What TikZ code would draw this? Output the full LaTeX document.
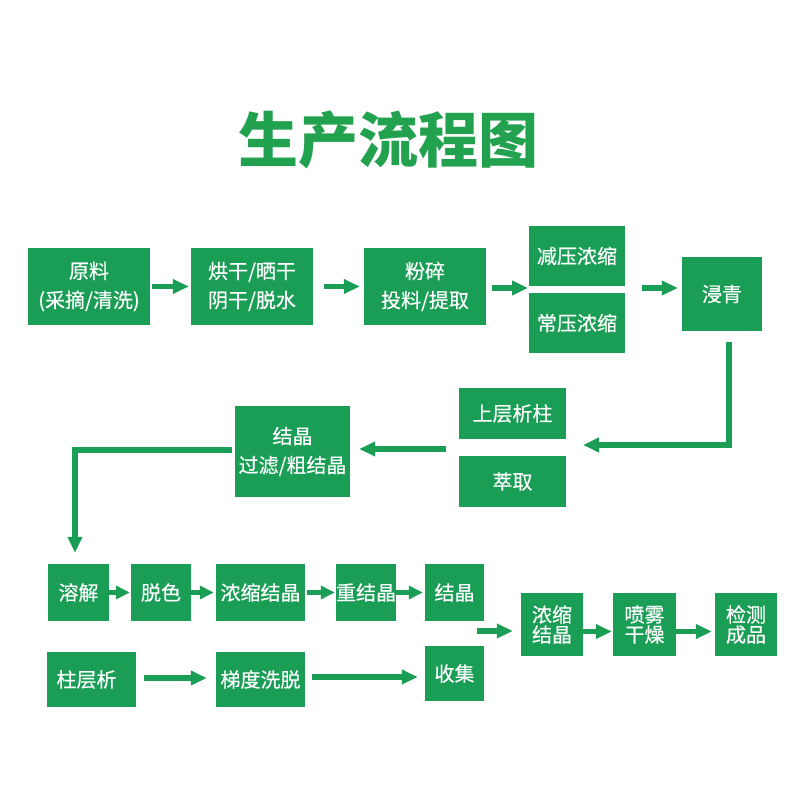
\documentclass[tikz,border=0pt]{standalone}
\usepackage{fontspec}
\setmainfont{Noto Sans CJK SC}
\newfontfamily\cjk{Noto Sans CJK SC}
\newfontfamily\cjkm[FakeBold=0.35]{Noto Sans CJK SC}
\usetikzlibrary{arrows.meta}
\definecolor{boxgreen}{RGB}{26,158,86}
\definecolor{titlegreen}{RGB}{34,161,78}
\tikzset{
  box/.style={fill=boxgreen, draw=none, inner sep=0pt, text=white,
    font=\cjkm\fontsize{20}{29}\selectfont, align=center},
  tightbox/.style={box, font=\cjkm\fontsize{20}{20}\selectfont},
  arr/.style={draw=boxgreen, line width=5.5pt,
    -{Triangle[length=16pt,width=14pt]}},
  smallarr/.style={draw=boxgreen, line width=5pt,
    -{Triangle[length=14pt,width=13pt]}}
}
\begin{document}
\begin{tikzpicture}[x=1pt,y=-1pt]
\fill[white] (0,0) rectangle (800,800);
\useasboundingbox (0,0) rectangle (800,800);

\node[text=titlegreen, font=\cjk\bfseries\fontsize{60}{60}\selectfont] (title) at (388.5,140) {生产流程图};

% row 1
\node[box, minimum width=122pt, minimum height=77pt] (b1) at (89,286.5) {原料\\(采摘/清洗)};
\node[box, minimum width=122pt, minimum height=77pt] (b2) at (252,286.5) {烘干/晒干\\阴干/脱水};
\node[box, minimum width=122pt, minimum height=77pt] (b3) at (425,286.5) {粉碎\\投料/提取};
\node[box, minimum width=96pt, minimum height=60pt] (b4a) at (577,256) {减压浓缩};
\node[box, minimum width=96pt, minimum height=60pt] (b4b) at (577,323) {常压浓缩};
\node[box, minimum width=80pt, minimum height=74pt] (b5) at (722,294) {浸青};
\coordinate (b4l) at (529,288);
\coordinate (b4r) at (625,288);

% row 2
\node[box, minimum width=107pt, minimum height=51pt] (b6a) at (512.5,413.5) {上层析柱};
\node[box, minimum width=107pt, minimum height=51pt] (b6b) at (512.5,481.5) {萃取};
\node[box, minimum width=115pt, minimum height=91pt] (b7) at (292.5,451.5) {结晶\\过滤/粗结晶};
\coordinate (b6r) at (566,445);
\coordinate (b6l) at (459,449);

% row 3
\node[box, minimum width=61pt, minimum height=57pt] (c1) at (78.5,592.5) {溶解};
\node[box, minimum width=60pt, minimum height=57pt] (c2) at (161,592.5) {脱色};
\node[box, minimum width=89pt, minimum height=57pt] (c3) at (260.5,592.5) {浓缩结晶};
\node[box, minimum width=60pt, minimum height=57pt] (c4) at (366,592.5) {重结晶};
\node[box, minimum width=59pt, minimum height=57pt] (c5) at (454.5,592.5) {结晶};

% row 4
\node[box, minimum width=89pt, minimum height=55pt] (d1) at (91.5,679.5) {\hspace*{-10pt}柱层析};
\node[box, minimum width=89pt, minimum height=55pt] (d2) at (260.5,679.5) {梯度洗脱};
\node[box, minimum width=59pt, minimum height=55pt] (d3) at (454.5,673.5) {收集};

% right group
\node[tightbox, minimum width=62pt, minimum height=63pt] (e1) at (552,624.5) {浓缩\\结晶};
\node[tightbox, minimum width=63pt, minimum height=63pt] (e2) at (644.5,624.5) {喷雾\\干燥};
\node[tightbox, minimum width=62pt, minimum height=63pt] (e3) at (746,624.5) {检测\\成品};
\coordinate (f) at (477,631);

% connectors
\draw[arr, shorten <=2pt, shorten >=2pt] (b1) -- (b2);
\draw[arr, shorten <=11pt, shorten >=4pt] (b2) -- (b3);
\draw[arr, shorten <=6pt, shorten >=1pt] (b3.east |- b4l) -- (b4l);
\draw[arr, shorten <=17pt, shorten >=4pt] (b4r) -- (b4r -| b5.west);
\draw[arr, shorten >=17pt] ([xshift=7pt,yshift=-11pt]b5.south) |- (b6r);
\draw[arr, shorten <=13pt, shorten >=9pt] (b6l) -- (b6l -| b7.east);
\draw[arr, shorten <=3pt, shorten >=11pt] ([yshift=1.5pt]b7.west) -| ([xshift=-3.5pt]c1.north);

\draw[smallarr, shorten >=1pt] (c1) -- (c2);
\draw[smallarr, shorten >=2pt] (c2) -- (c3);
\draw[smallarr, shorten <=2pt, shorten >=1pt] (c3) -- (c4);
\draw[smallarr, shorten >=2pt] (c4) -- (c5);

\draw[arr, shorten <=8pt, shorten >=9pt] ([yshift=1.5pt]d1.east) -- ([yshift=1.5pt]d2.west);
\draw[arr, shorten <=7pt, shorten >=7pt] ([yshift=2.5pt]d2.east) -- ([yshift=2.5pt]d2.east -| d3.west);

\draw[arr, shorten >=8pt] (f) -- (f -| e1.west);
\draw[arr, shorten >=1pt] ([yshift=-7pt]e1.east) -- ([yshift=-7pt]e2.west);
\draw[arr, shorten >=3pt] ([yshift=-7pt]e2.east) -- ([yshift=-7pt]e3.west);
\end{tikzpicture}
\end{document}
